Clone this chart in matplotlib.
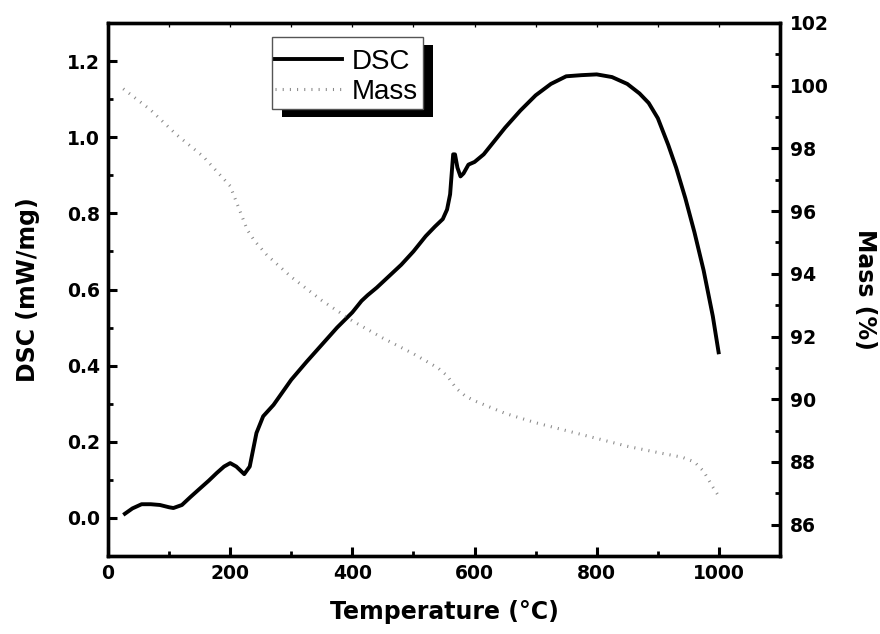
import matplotlib
matplotlib.use("Agg")
import matplotlib.pyplot as plt
from matplotlib.lines import Line2D
from matplotlib.patches import Rectangle
from matplotlib.ticker import MultipleLocator

plt.rcParams['font.family'] = ['Liberation Sans', 'DejaVu Sans']

# DSC data (°C, mW/mg)
dsc_T = [25, 40, 55, 70, 85, 100, 107, 121, 135, 151, 165, 178, 190, 200, 210,
         223, 232, 243, 254, 271, 300, 325, 350, 375, 400, 415, 425, 440, 460,
         480, 500, 520, 535, 548, 555, 560, 565, 568, 572, 577, 582, 590, 600,
         615, 630, 650, 675, 700, 725, 750, 775, 800, 825, 850, 870, 885, 900,
         917, 930, 945, 960, 975, 990, 1000]
dsc_v = [0.008, 0.025, 0.036, 0.036, 0.034, 0.028, 0.026, 0.034, 0.055, 0.078,
         0.098, 0.118, 0.135, 0.144, 0.135, 0.115, 0.135, 0.223, 0.267, 0.297,
         0.363, 0.41, 0.455, 0.50, 0.54, 0.57, 0.585, 0.605, 0.635, 0.665,
         0.70, 0.74, 0.765, 0.785, 0.81, 0.85, 0.955, 0.955, 0.92, 0.897,
         0.905, 0.928, 0.935, 0.955, 0.985, 1.025, 1.07, 1.11, 1.14, 1.16,
         1.163, 1.165, 1.158, 1.14, 1.115, 1.09, 1.05, 0.98, 0.92, 0.84, 0.75,
         0.65, 0.53, 0.43]

# Mass data (°C, %)
mass_T = [25, 69, 112, 156, 200, 216, 228, 240, 260, 300, 350, 400, 450, 500,
          540, 555, 570, 585, 600, 650, 700, 750, 800, 850, 900, 940, 960, 975,
          990, 1000]
mass_v = [99.9, 99.24, 98.44, 97.74, 96.8, 96.0, 95.4, 95.05, 94.6, 93.9,
          93.15, 92.5, 91.95, 91.45, 91.0, 90.75, 90.35, 90.1, 89.95, 89.55,
          89.25, 89.0, 88.75, 88.5, 88.3, 88.15, 88.0, 87.7, 87.2, 86.9]

xticks = [0, 200, 400, 600, 800, 1000]
yticks_dsc = [0.0, 0.2, 0.4, 0.6, 0.8, 1.0, 1.2]
yticks_mass = [86, 88, 90, 92, 94, 96, 98, 100, 102]

BOLD = ['DejaVu Sans']
MASS_COLOR = '#8a8a8a'
MASS_LS = (0, (0.35, 2.0))

W, H = 880, 634
fig = plt.figure(figsize=(W / 100, H / 100), dpi=100)
ax = fig.add_axes([108 / W, 1 - 556 / H, 672 / W, 533 / H])
ax2 = ax.twinx()

ax.plot(dsc_T, dsc_v, color='black', lw=2.8, solid_capstyle='butt',
        solid_joinstyle='round')
ax2.plot(mass_T, mass_v, color=MASS_COLOR, lw=2.2, linestyle=MASS_LS,
         dash_capstyle='butt')

ax.set_xlim(0, 1100)
ax.set_ylim(-0.1, 1.3)
ax2.set_ylim(85, 102)

ax.set_xticks(xticks)
ax.xaxis.set_minor_locator(MultipleLocator(100))
ax.set_yticks(yticks_dsc)
ax.set_yticklabels([f'{v:.1f}' for v in yticks_dsc])
ax.yaxis.set_minor_locator(MultipleLocator(0.1))
ax2.set_yticks(yticks_mass)
ax2.yaxis.set_minor_locator(MultipleLocator(1))

for a in (ax, ax2):
    for s in a.spines.values():
        s.set_linewidth(2.4)

ax.tick_params(axis='both', which='major', direction='in', length=6.3, width=2.2,
               labelsize=13.5, pad=6)
ax.tick_params(axis='both', which='minor', direction='in', length=3.5, width=2.0)
ax.tick_params(axis='x', which='both', top=False, labeltop=False)
ax2.tick_params(axis='y', which='major', direction='in', length=6.3, width=2.2,
                labelsize=13.5, pad=7)
ax2.tick_params(axis='y', which='minor', direction='in', length=3.5, width=2.0)

# small ticks on the top spine
ax2.xaxis.set_visible(True)
ax2.tick_params(axis='x', which='both', bottom=False, top=True, labelbottom=False,
                labeltop=False, direction='in', length=3, width=0.9)

for lab in ax.get_xticklabels() + ax.get_yticklabels() + ax2.get_yticklabels():
    lab.set_fontweight('bold')
    lab.set_family(BOLD)

ax.set_xlabel('Temperature (°C)', fontsize=17, fontweight='bold', family=BOLD)
ax.set_ylabel('DSC (mW/mg)', fontsize=17, fontweight='bold', family=BOLD)
ax2.set_ylabel('Mass (%)', fontsize=17, fontweight='bold', rotation=270,
               va='bottom', family=BOLD)
ax.xaxis.set_label_coords(0.5, -0.083)
ax.yaxis.set_label_coords(-0.101, 0.5)
ax2.yaxis.set_label_coords(1.109, 0.5)

# legend: frame and shadow drawn as boxes, entries from the legend itself
fx0, fx1, fy_top, fy_bot = 272, 423, 37, 109
def to_ax(px, py):
    return (px - 108) / 672, (556 - py) / 533
bx0, by0 = to_ax(fx0, fy_bot)
bx1, by1 = to_ax(fx1, fy_top)
sx, sy = 10 / 672, 8 / 533
ax2.add_patch(Rectangle((bx0 + sx, by0 - sy), bx1 - bx0, by1 - by0,
                        transform=ax2.transAxes, facecolor='black',
                        edgecolor='none', zorder=8, clip_on=False))
ax2.add_patch(Rectangle((bx0, by0), bx1 - bx0, by1 - by0,
                        transform=ax2.transAxes, facecolor='white',
                        edgecolor='#555555', lw=1.0, zorder=9, clip_on=False))

handles = [Line2D([], [], color='black', lw=2.8),
           Line2D([], [], color=MASS_COLOR, lw=2.2, linestyle=MASS_LS,
                  dash_capstyle='butt')]
lx, ly = to_ax(275, 49)
leg = ax2.legend(handles, ['DSC', 'Mass'], loc='upper left',
                 bbox_to_anchor=(lx, ly), borderaxespad=0,
                 prop={'family': 'Liberation Sans', 'size': 20},
                 frameon=False, handlelength=2.4, handletextpad=0.36,
                 borderpad=0, labelspacing=0.15)
leg.set_zorder(10)

fig.savefig('out.png', dpi=100)
